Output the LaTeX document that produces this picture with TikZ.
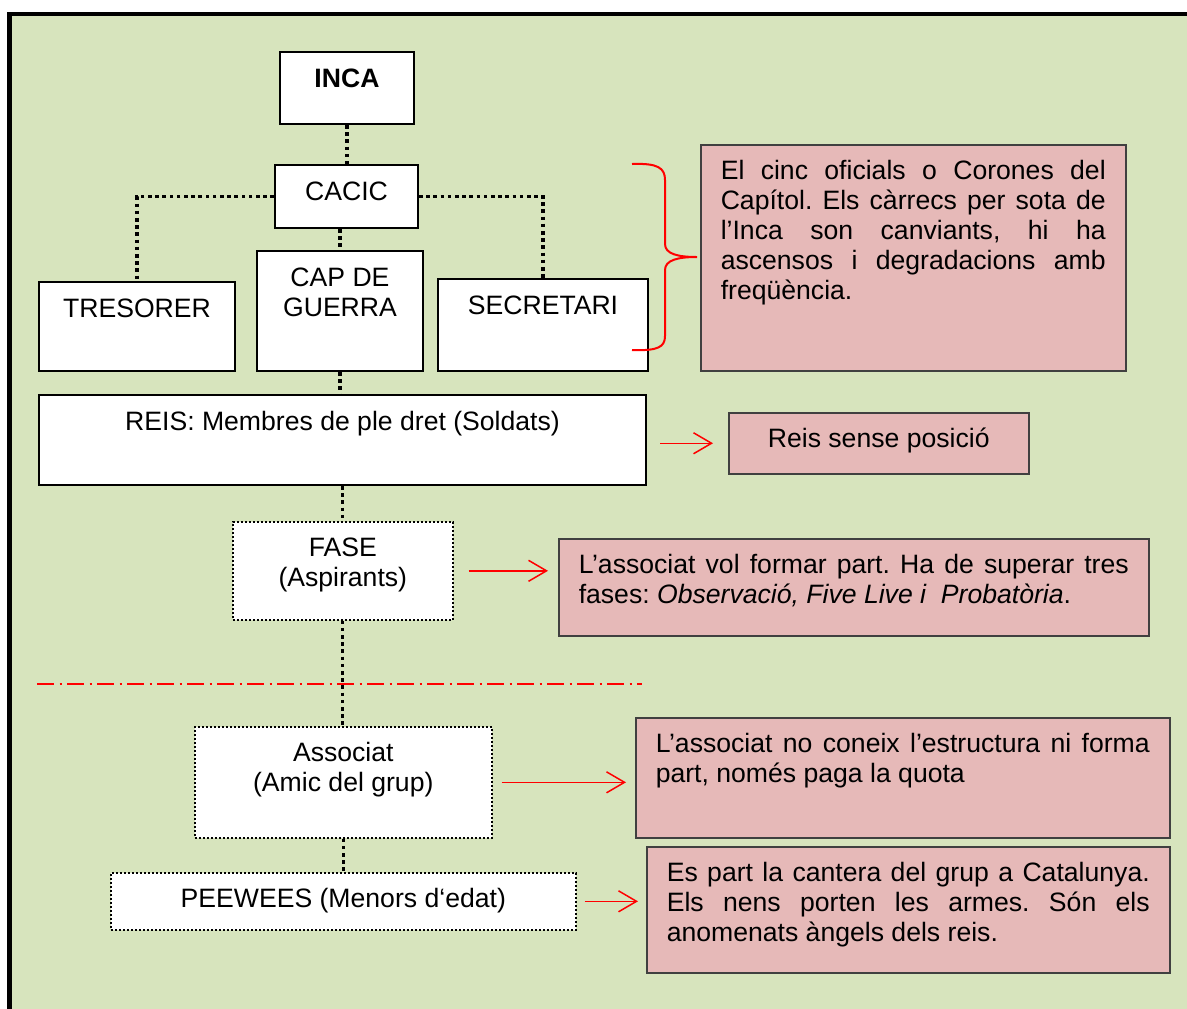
\documentclass[tikz,border=0pt]{standalone}
\usepackage{fontspec}
\setmainfont{Liberation Sans}
\frenchspacing
\usetikzlibrary{arrows.meta}
\definecolor{bggreen}{HTML}{D7E4BD}
\definecolor{notepink}{HTML}{E6B9B8}
\begin{document}
\begin{tikzpicture}[x=0.5pt,y=-0.5pt,
    every node/.style={font=\fontsize{13.3}{15}\selectfont},
    box/.style={draw, line width=1pt, fill=white, anchor=north west, inner sep=0pt, text height=17.5pt, align=center},
    twoline/.style={text height=32.5pt},
    dotbox/.style={box, densely dotted, line width=0.8pt},
    note/.style={draw=black!75, line width=0.75pt, fill=notepink, anchor=north west, inner xsep=10pt, inner ysep=0pt, text height=17.5pt, align=justify},
    link/.style={line width=1.6pt, dash pattern=on 1.8pt off 1.8pt},
    arr/.style={red, line width=0.75pt, -{Straight Barb[length=9pt,width=10.5pt]}}]
    \useasboundingbox (0,0) rectangle (1187,1008);
    \fill[white] (0,0) rectangle (1187,1008);
    \begin{scope}
        \clip (0,0) rectangle (1187,1008);
        \draw[line width=2.25pt, fill=bggreen] (9.5,14) rectangle (1220,1040);
    \end{scope}
    \node[box, minimum width=67pt, text depth=18.5pt] (inca) at (279,51) {\textbf{INCA}};
    \node[box, minimum width=71.5pt, text depth=14pt] (cacic) at (274,164) {CACIC};
    \node[box, minimum width=98pt, text depth=27pt] (tresorer) at (38,281) {TRESORER};
    \node[box, twoline, minimum width=83pt, text depth=27.5pt] (capguerra) at (256,250) {CAP DE\\GUERRA};
    \node[box, minimum width=105pt, text depth=28.5pt] (secretari) at (437,278) {SECRETARI};
    \node[box, minimum width=303.5pt, text depth=27.5pt] (reis) at (38,394) {REIS: Membres de ple dret (Soldats)};
    \node[note, align=center, inner xsep=0pt, minimum width=150pt, text depth=13pt] (senseposicio) at (728,412) {Reis sense posició};
    \node[dotbox, twoline, minimum width=110pt, text depth=16.5pt] (fase) at (232,521) {FASE\\(Aspirants)};
    \node[dotbox, twoline, minimum width=148.5pt, text depth=23pt] (associat) at (194,726) {Associat\\(Amic del grup)};
    \node[dotbox, minimum width=232.5pt, text depth=11pt] (peewees) at (110,872) {PEEWEES (Menors d‘edat)};
    \node[note, text width=192.5pt, text depth=95.5pt] (oficials) at (700,144) {El cinc oficials o Corones del\linebreak Capítol. Els càrrecs per sota de\linebreak l’Inca son canviants, hi ha\linebreak ascensos i degradacions amb\linebreak freqüència.};
    \node[note, text width=275pt, text depth=31pt] (fases) at (558,538) {L’associat vol formar part. Ha de superar tres\linebreak fases: \textit{Observació, Five Live i~~Probatòria}.};
    \node[note, text width=247pt, text depth=42.5pt] (quota) at (635,717) {L’associat no coneix l’estructura ni forma\linebreak part, només paga la quota};
    \node[note, text width=241.5pt, text depth=45.5pt] (cantera) at (646,846) {Es part la cantera del grup a Catalunya.\linebreak Els nens porten les armes. Són els\linebreak anomenats àngels dels reis.};
    \coordinate (bracetop) at (632,164);
    \coordinate (bracebot) at (632,350);
    \draw[red, line width=1pt] (bracetop) .. controls (658,163) and (665,168) .. (665,180) -- (665,244)
        .. controls (665,254) and (678,257) .. (697,257) .. controls (678,257) and (665,260) .. (665,270)
        -- (665,336) .. controls (665,347) and (658,351) .. (bracebot);
    \draw[red, line width=1pt, dash pattern=on 8.5pt off 2.75pt on 1pt off 2.75pt] (37,684) -- (642,684);
    \draw[link] (inca.south) -- (inca.south |- cacic.north);
    \draw[link] (cacic.west) -| (tresorer.north);
    \draw[link] (cacic.east) -| (secretari.north);
    \draw[link] (capguerra.north |- cacic.south) -- (capguerra.north);
    \draw[link] (capguerra.south) -- (capguerra.south |- reis.north);
    \draw[link] (reis.south -| fase.north) -- (fase.north);
    \draw[link] (fase.south) -- (fase.south |- associat.north);
    \draw[link] (associat.south) -- (associat.south |- peewees.north);
    \draw[arr] ([xshift=6.5pt]reis.east |- senseposicio.west) -- ([xshift=-7.5pt]senseposicio.west);
    \draw[arr] ([xshift=7.5pt]fase.east) -- ([xshift=-5pt]fase.east -| fases.west);
    \draw[arr] ([xshift=4.5pt]associat.east) -- ([xshift=-4.5pt]associat.east -| quota.west);
    \draw[arr] ([xshift=4pt]peewees.east) -- ([xshift=-4pt]peewees.east -| cantera.west);
\end{tikzpicture}
\end{document}
